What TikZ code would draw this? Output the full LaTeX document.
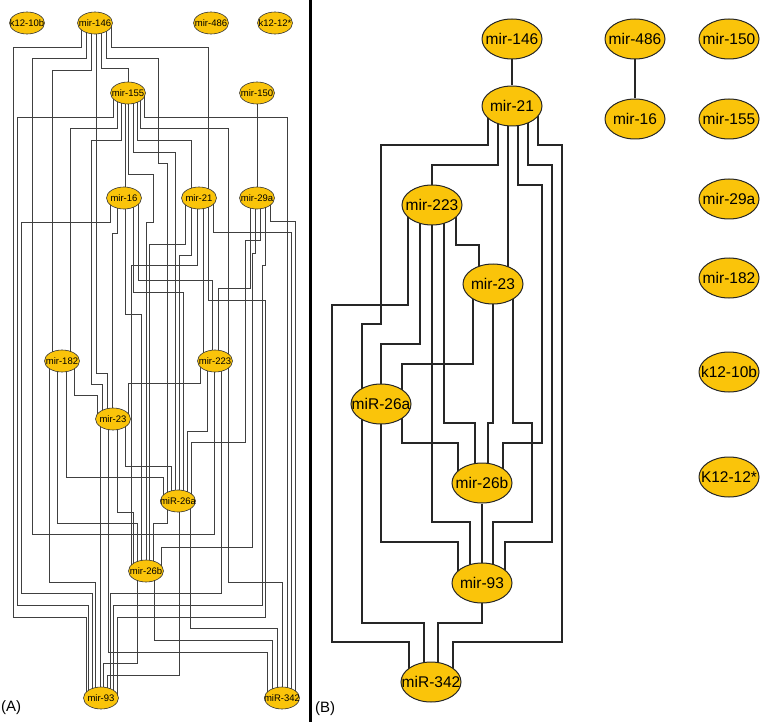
\documentclass[tikz,border=0pt]{standalone}
\usepackage{fontspec}
\setmainfont{Liberation Sans}
\usetikzlibrary{shapes.geometric,backgrounds}
\definecolor{nodefill}{RGB}{250,196,10}
\begin{document}
\begin{tikzpicture}[x=1pt,y=-1pt,
  nA/.style={ellipse,draw=black!80,line width=0.6pt,fill=nodefill,minimum width=35pt,minimum height=22pt,inner xsep=-9pt,inner ysep=0pt,font=\fontsize{9.5}{10}\selectfont},
  nB/.style={ellipse,draw=black!85,line width=1pt,fill=nodefill,minimum width=60pt,minimum height=40pt,inner xsep=-12pt,inner ysep=0pt,font=\fontsize{15.5}{16}\selectfont},
  eA/.style={draw=black!75,line width=0.8pt},
  eB/.style={draw=black!85,line width=1.3pt},
  lab/.style={anchor=west,inner sep=0pt,font=\fontsize{15}{15}\selectfont}]
\useasboundingbox (0,0) rectangle (763,722);
% ---------------- Panel A nodes
\node[nA] (a10b) at (27,23) {k12-10b};
\node[nA] (a146) at (95,23) {mir-146};
\node[nA] (a486) at (211,23) {mir-486};
\node[nA] (a1212) at (275,23) {k12-12*};
\node[nA] (a155) at (128,93) {mir-155};
\node[nA] (a150) at (257,93) {mir-150};
\node[nA] (a16) at (124,198) {mir-16};
\node[nA] (a21) at (199,198) {mir-21};
\node[nA] (a29a) at (257,198) {mir-29a};
\node[nA] (a182) at (62,361) {mir-182};
\node[nA] (a223) at (215,361) {mir-223};
\node[nA] (a23) at (113,419) {mir-23};
\node[nA] (a26a) at (178,501) {miR-26a};
\node[nA] (a26b) at (146,571) {mir-26b};
\node[nA] (a93) at (101,698) {mir-93};
\node[nA] (a342) at (282,698) {miR-342};
% ---------------- Panel B nodes
\node[nB] (b146) at (512,39) {mir-146};
\node[nB] (b21) at (512,106) {mir-21};
\node[nB] (b486) at (635,39) {mir-486};
\node[nB] (b16) at (635,119) {mir-16};
\node[nB] (b150) at (729,39) {mir-150};
\node[nB] (b155) at (729,119) {mir-155};
\node[nB] (b29a) at (729,199) {mir-29a};
\node[nB] (b182) at (729,278) {mir-182};
\node[nB] (b10b) at (729,372) {k12-10b};
\node[nB] (b1212) at (729,477) {K12-12*};
\node[nB] (b223) at (432,205) {mir-223};
\node[nB] (b23) at (493,284) {mir-23};
\node[nB] (b26a) at (381,404) {miR-26a};
\node[nB] (b26b) at (482,483) {mir-26b};
\node[nB] (b93) at (482,583) {mir-93};
\node[nB] (b342) at (431,682) {miR-342};
% labels and divider
\node[lab] (labA) at (1,708) {(A)};
\node[lab] (labB) at (315,709) {(B)};
\draw[line width=2.5pt] (310.5,0) -- (310.5,722);
\begin{scope}[on background layer]
% ---------------- Panel A edges
% mir-146
\draw[eA] ([xshift=-14pt]a146.center) |- (13,47) |- (86,617) -- ([xshift=-15pt]a93.center);
\draw[eA] ([xshift=-9pt]a146.center) |- (32,58) |- (214,534) -- ([xshift=-1pt]a223.center);
\draw[eA] ([xshift=-4pt]a146.center) |- (52,70) -- ([xshift=-10pt]a182.center);
\draw[eA] ([xshift=1pt]a146.center) |- (107,373) -- ([xshift=-6pt]a23.center);
\draw[eA] ([xshift=6pt]a146.center) |- (128,68) -- (a155.center);
\draw[eA] ([xshift=11pt]a146.center) |- (158,58) |- (167,163) -- ([xshift=-11pt]a26a.center);
\draw[eA] ([xshift=16pt]a146.center) |- (208,47) -- ([xshift=9pt]a21.center);
% mir-155
\draw[eA] ([xshift=-15pt]a155.center) |- (17,117) |- (88,605) -- ([xshift=-13pt]a93.center);
\draw[eA] ([xshift=-11pt]a155.center) |- (70,128) -- ([xshift=8pt]a182.center);
\draw[eA] ([xshift=-7pt]a155.center) |- (91,140) |- (102,384) -- ([xshift=-11pt]a23.center);
\draw[eA] ([xshift=-3pt]a155.center) -- ([xshift=1pt]a16.center);
\draw[eA] (a155.center) |- (153,174) |- (146,222) -- (a26b.center);
\draw[eA] ([xshift=5pt]a155.center) |- (175,152) -- ([xshift=-3pt]a26a.center);
\draw[eA] ([xshift=9pt]a155.center) |- (191,140) -- ([xshift=-8pt]a21.center);
\draw[eA] ([xshift=12pt]a155.center) |- (228,128) -- ([xshift=13pt]a223.center);
\draw[eA] ([xshift=16pt]a155.center) |- (287,117) -- ([xshift=5pt]a342.center);
% mir-150
\draw[eA] (a150) -- (a29a);
% mir-16
\draw[eA] ([xshift=-14pt]a16.center) |- (21,222) |- (92,593) -- ([xshift=-9pt]a93.center);
\draw[eA] ([xshift=-7pt]a16.center) |- (112,233) -- ([xshift=-1pt]a23.center);
\draw[eA] ([xshift=1pt]a16.center) |- (141,314) -- ([xshift=-5pt]a26b.center);
\draw[eA] ([xshift=9pt]a16.center) |- (183,292) -- ([xshift=5pt]a26a.center);
\draw[eA] ([xshift=14pt]a16.center) |- (212,280) -- ([xshift=-3pt]a223.center);
% mir-21
\draw[eA] ([xshift=-14pt]a21.center) |- (149,244) -- ([xshift=3pt]a26b.center);
\draw[eA] ([xshift=-8pt]a21.center) |- (179,255) -- ([xshift=1pt]a26a.center);
\draw[eA] ([xshift=-2pt]a21.center) |- (131,265) -- ([xshift=-15pt]a26b.center);
\draw[eA] ([xshift=4pt]a21.center) -- ([xshift=-12pt]a223.center);
\draw[eA] ([xshift=9pt]a21.center) |- (265,300) |- (117,617) -- ([xshift=16pt]a93.center);
\draw[eA] ([xshift=14pt]a21.center) |- (291,232) -- ([xshift=9pt]a342.center);
% mir-29a
\draw[eA] ([xshift=-7pt]a29a.center) |- (218,288) -- ([xshift=3pt]a223.center);
\draw[eA] ([xshift=-2pt]a29a.center) |- (252,253) |- (161,547) -- ([xshift=15pt]a26b.center);
\draw[eA] ([xshift=3pt]a29a.center) |- (245,240) |- (191,442) -- ([xshift=13pt]a26a.center);
\draw[eA] ([xshift=8pt]a29a.center) |- (262,265) |- (113,605) -- ([xshift=12pt]a93.center);
\draw[eA] ([xshift=13pt]a29a.center) |- (295,221) -- ([xshift=13pt]a342.center);
% mir-182
\draw[eA] ([xshift=-13pt]a182.center) |- (95,582) -- ([xshift=-6pt]a93.center);
\draw[eA] ([xshift=-5pt]a182.center) |- (137,523) -- ([xshift=-9pt]a26b.center);
\draw[eA] ([xshift=4pt]a182.center) |- (163,477) -- ([xshift=-15pt]a26a.center);
\draw[eA] ([xshift=12pt]a182.center) |- (97,395) -- ([xshift=-16pt]a23.center);
% mir-223
\draw[eA] ([xshift=-15pt]a223.center) |- (128,383) -- ([xshift=15pt]a23.center);
\draw[eA] ([xshift=-8pt]a223.center) |- (187,431) -- ([xshift=9pt]a26a.center);
\draw[eA] ([xshift=6pt]a223.center) |- (110,593) -- ([xshift=9pt]a93.center);
\draw[eA] ([xshift=13pt]a223.center) |- (282,582) -- (a342.center);
% mir-23
\draw[eA] ([xshift=-13pt]a23.center) -- ([xshift=-1pt]a93.center);
\draw[eA] ([xshift=-5pt]a23.center) |- (267,652) -- ([xshift=-15pt]a342.center);
\draw[eA] ([xshift=4pt]a23.center) |- (133,512) -- ([xshift=-13pt]a26b.center);
\draw[eA] ([xshift=12pt]a23.center) |- (171,466) -- ([xshift=-7pt]a26a.center);
% miR-26a
\draw[eA] ([xshift=-11pt]a26a.center) |- (153,523) -- ([xshift=7pt]a26b.center);
\draw[eA] ([xshift=1pt]a26a.center) |- (107,675) -- ([xshift=6pt]a93.center);
\draw[eA] ([xshift=12pt]a26a.center) |- (277,628) -- ([xshift=-5pt]a342.center);
% mir-26b
\draw[eA] ([xshift=-9pt]a26b.center) |- (103,663) -- ([xshift=2pt]a93.center);
\draw[eA] ([xshift=8pt]a26b.center) |- (272,640) -- ([xshift=-10pt]a342.center);
% ---------------- Panel B edges
\draw[eB] (b146) -- (b21);
\draw[eB] (b486) -- (b16);
\draw[eB] ([xshift=-24pt]b21.center) |- (381,145) |- (362,324) |- (424,623) -- ([xshift=-7pt]b342.center);
\draw[eB] ([xshift=-14pt]b21.center) |- (432,165) -- (b223.center);
\draw[eB] ([xshift=-4pt]b21.center) -- ([xshift=15pt]b23.center);
\draw[eB] ([xshift=6pt]b21.center) |- (542,185) |- (503,443) -- ([xshift=21pt]b26b.center);
\draw[eB] ([xshift=16pt]b21.center) |- (552,165) |- (505,542) -- ([xshift=23pt]b93.center);
\draw[eB] ([xshift=26pt]b21.center) |- (562,145) |- (453,642) -- ([xshift=22pt]b342.center);
\draw[eB] ([xshift=-24pt]b223.center) |- (332,305) |- (409,642) -- ([xshift=-22pt]b342.center);
\draw[eB] ([xshift=-12pt]b223.center) |- (381,344) -- (b26a.center);
\draw[eB] (b223.center) |- (470,522) -- ([xshift=-12pt]b93.center);
\draw[eB] ([xshift=12pt]b223.center) |- (475,423) -- ([xshift=-7pt]b26b.center);
\draw[eB] ([xshift=24pt]b223.center) |- (479,245) -- ([xshift=-14pt]b23.center);
\draw[eB] ([xshift=-20pt]b23.center) |- (402,364) |- (458,443) -- ([xshift=-24pt]b26b.center);
\draw[eB] (b23.center) |- (488,423) -- ([xshift=6pt]b26b.center);
\draw[eB] ([xshift=20pt]b23.center) |- (532,423) |- (493,522) -- ([xshift=11pt]b93.center);
\draw[eB] (b26a.center) |- (458,542) -- ([xshift=-24pt]b93.center);
\draw[eB] (b26b) -- (b93);
\draw[eB] (b93.center) |- (438,623) -- ([xshift=7pt]b342.center);
\end{scope}
\end{tikzpicture}
\end{document}
